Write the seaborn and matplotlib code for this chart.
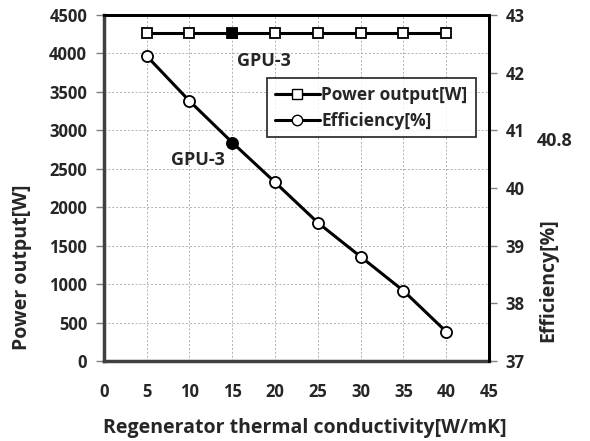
import matplotlib
matplotlib.use("Agg")
import matplotlib.pyplot as plt
import seaborn as sns
import pandas as pd
from matplotlib.lines import Line2D

conductivity = [5, 10, 15, 20, 25, 30, 35, 40]
power_output = [4260, 4260, 4260, 4260, 4260, 4260, 4260, 4260]
efficiency = [42.29, 41.51, 40.79, 40.10, 39.40, 38.81, 38.22, 37.51]
gpu3_x = 15
left_ticks = [0, 500, 1000, 1500, 2000, 2500, 3000, 3500, 4000, 4500]
right_ticks = [37, 38, 39, 40, 41, 42, 43]
x_ticks = [0, 5, 10, 15, 20, 25, 30, 35, 40, 45]

sns.set_style("white")
plt.rcParams['font.family'] = ['Open Sans', 'DejaVu Sans']
plt.rcParams['font.weight'] = 'bold'

df = pd.DataFrame({"k": conductivity, "P": power_output, "eta": efficiency})
gpu = df[df["k"] == gpu3_x]

fig = plt.figure(figsize=(5.9, 4.41), dpi=100)
ax = fig.add_axes([0.176, 0.181, 0.653, 0.785])
ax2 = ax.twinx()

sns.lineplot(data=df, x="k", y="P", ax=ax, color="black", lw=2.2, marker="s",
             markersize=7.5, markerfacecolor="white", markeredgecolor="black",
             markeredgewidth=1.3, zorder=3)
sns.scatterplot(data=gpu, x="k", y="P", ax=ax, color="black", marker="s", s=55,
                edgecolor="black", zorder=4)
sns.lineplot(data=df, x="k", y="eta", ax=ax2, color="black", lw=2.2, marker="o",
             markersize=8, markerfacecolor="white", markeredgecolor="black",
             markeredgewidth=1.3, zorder=3)
sns.scatterplot(data=gpu, x="k", y="eta", ax=ax2, color="black", marker="o", s=60,
                edgecolor="black", zorder=4)

ax.set_xlim(0, 45)
ax.set_ylim(0, 4500)
ax2.set_ylim(37, 43)
ax.set_xticks(x_ticks)
ax.set_yticks(left_ticks)
ax2.set_yticks(right_ticks)

ax.grid(True, color="#b0b0b0", linestyle=(0, (2, 2)), lw=0.7)
ax.set_axisbelow(True)

for a in (ax, ax2):
    for s in a.spines.values():
        s.set_linewidth(2)
        s.set_color("black")
ax2.spines['left'].set_visible(False)
ax2.spines['bottom'].set_visible(False)
ax.spines['left'].set_color("#404040")
ax.spines['bottom'].set_color("#404040")
ax.spines['left'].set_linewidth(2.5)
ax.spines['bottom'].set_linewidth(2.5)

ax.tick_params(axis="both", direction="out", length=6, width=1, color="#808080",
               labelsize=12, pad=6)
ax.tick_params(axis="x", pad=10)
ax2.tick_params(axis="y", direction="out", length=6, width=1, color="#808080",
                labelsize=12, pad=6)
for lab in ax.get_xticklabels() + ax.get_yticklabels() + ax2.get_yticklabels():
    lab.set_fontweight("bold")

ax.set_xlabel("Regenerator thermal conductivity[W/mK]", fontsize=14,
              fontweight="bold")
ax.set_ylabel("Power output[W]", fontsize=14, fontweight="bold")
ax2.set_ylabel("Efficiency[%]", fontsize=14, fontweight="bold")
ax.xaxis.set_label_coords(0.522, -0.165)
ax.yaxis.set_label_coords(-0.187, 0.27)
ax2.yaxis.set_label_coords(1.127, 0.234)

ax.text(15.6, 3900, "GPU-3", fontsize=13, fontweight="bold", ha="left", va="center")
ax.text(11.0, 2620, "GPU-3", fontsize=13, fontweight="bold", ha="center", va="center")
fig.text(555 / 590, 1 - 141 / 441, "40.8", fontsize=13, fontweight="bold",
         ha="center", va="center")

handles = [
    Line2D([], [], color="black", lw=2.2, marker="s", markersize=7.5,
           markerfacecolor="white", markeredgecolor="black"),
    Line2D([], [], color="black", lw=2.2, marker="o", markersize=7.5,
           markerfacecolor="white", markeredgecolor="black"),
]
leg = ax2.legend(handles, ["Power output[W]", "Efficiency[%]"],
                 loc="upper left", bbox_to_anchor=(0.423, 0.818),
                 borderaxespad=0, frameon=True, fancybox=False, handlelength=2.6,
                 handletextpad=0.1, borderpad=0.45, labelspacing=0.45,
                 prop={"weight": "bold", "size": 12.5})
leg.get_frame().set_edgecolor("black")
leg.get_frame().set_linewidth(1.3)

fig.savefig("out.png", dpi=100)
